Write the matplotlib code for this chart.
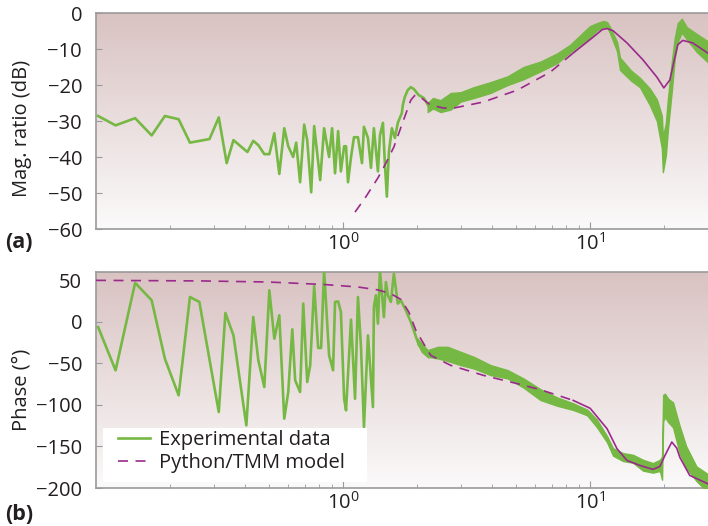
import numpy as np
import matplotlib
matplotlib.use('Agg')
import matplotlib.pyplot as plt
from matplotlib.ticker import FixedLocator, LogLocator, NullFormatter
from matplotlib.colors import LinearSegmentedColormap
from matplotlib.patches import Rectangle

plt.rcParams['font.family'] = ['Open Sans', 'DejaVu Sans']
plt.rcParams['mathtext.fontset'] = 'custom'
plt.rcParams['mathtext.rm'] = 'Open Sans'
plt.rcParams['mathtext.it'] = 'Open Sans'

# ---- (a) magnitude: experimental, low frequency part (single line)
mag_f = [0.102, 0.12, 0.144, 0.168, 0.19, 0.216, 0.24, 0.288, 0.314, 0.338, 0.36, 0.41,
         0.433, 0.454, 0.48, 0.503, 0.527, 0.552, 0.578, 0.6, 0.628, 0.646, 0.67, 0.696,
         0.716, 0.743, 0.764, 0.808, 0.838, 0.878, 0.903, 0.928, 0.955, 0.98, 1.01, 1.028,
         1.047, 1.077, 1.107, 1.149, 1.193, 1.215, 1.261, 1.297, 1.333, 1.384, 1.41, 1.45,
         1.477, 1.504, 1.533, 1.576, 1.621, 1.666, 1.729, 1.745, 1.778, 1.828, 1.88, 1.933,
         2.025, 2.122, 2.244]
mag_db = [-28.6, -31.2, -29.2, -34, -28.6, -29.5, -36, -35, -29, -41.7, -35.3, -38.6,
          -35.5, -36.7, -39.2, -39.2, -33.4, -44.7, -32, -37, -40, -36, -47, -31,
          -35.3, -49.8, -31.4, -46.4, -32, -40, -32, -44.5, -32.8, -44, -37, -37,
          -47, -40, -34.5, -34.5, -41.7, -31.6, -34.7, -43, -32, -44, -34, -30.5,
          -42, -51, -38.6, -32, -34.7, -30.5, -27.8, -25.6, -23.3, -21.4, -20.6, -21.1,
          -22.8, -23.6, -26.4]

# experimental, high frequency part (dense noisy band: upper / lower envelope)
magb_f = [2.2, 2.31, 2.48, 2.73, 2.99, 3.38, 3.95, 4.63, 5.37, 6.29, 7.36, 8.31, 9.37,
          10.0, 10.67, 11.28, 11.71, 12.04, 12.85, 13.21, 14.66, 15.91, 17.46, 18.63,
          19.51, 19.7, 20.26, 20.63, 21.41, 22.01, 22.63, 23.5, 24.61, 27.01, 29.9]
magb_hi = [-25.0, -23.6, -24.2, -22.2, -22.0, -20.6, -19.2, -17.6, -15.0, -13.5, -11.2,
           -8.8, -5.4, -3.6, -2.8, -2.2, -2.5, -3.9, -8.0, -12.4, -16.0, -18.0, -21.0,
           -24.0, -28.5, -34.4, -30.5, -24.0, -13.5, -6.9, -2.8, -1.6, -3.9, -5.8, -7.8]
magb_lo = [-27.5, -26.5, -27.5, -26.8, -24.6, -23.6, -22.2, -20.0, -18.4, -16.2, -13.9,
           -10.9, -8.2, -6.7, -4.8, -4.0, -3.9, -5.6, -10.6, -15.8, -18.8, -20.6, -25.6,
           -30.0, -37.5, -44.2, -39.5, -32.6, -21.6, -12.6, -8.0, -5.4, -7.3, -10.8, -13.6]

# model magnitude
mod_mag_f = [1.118, 1.238, 1.384, 1.491, 1.606, 1.745, 1.88, 1.95, 2.006, 2.264, 2.555,
             2.803, 3.703, 5.077, 6.898, 8.542, 10.28, 11.2, 11.71, 12.38, 14.1, 16.36,
             18.63, 19.88, 21.02, 22.0, 22.63, 23.71, 26.02, 29.91]
mod_mag_db = [-55.3, -51, -45.8, -41.7, -37.2, -30.3, -24.2, -22.9, -22.8, -25.6, -26.4,
              -26.4, -24.7, -21.4, -16.4, -11.1, -6.7, -4.6, -4.3, -4.9, -8.3, -13,
              -17.8, -20.8, -18.6, -12.5, -8.8, -7.6, -8.3, -11.1]

# ---- (b) phase: experimental, low frequency part
ph_f = [0.102, 0.12, 0.144, 0.168, 0.19, 0.216, 0.24, 0.262, 0.314, 0.334, 0.36, 0.406,
        0.433, 0.454, 0.48, 0.503, 0.527, 0.552, 0.578, 0.6, 0.623, 0.64, 0.67, 0.69,
        0.716, 0.736, 0.764, 0.793, 0.815, 0.838, 0.878, 0.911, 0.928, 0.955, 0.98, 1.01,
        1.028, 1.077, 1.118, 1.149, 1.182, 1.215, 1.261, 1.321, 1.333, 1.358, 1.384, 1.41,
        1.463, 1.491, 1.519, 1.561, 1.606, 1.666, 1.713, 1.795, 1.88, 2.006, 2.102, 2.222]
ph_deg = [-6.2, -58.3, 47, 26, -44.3, -88.4, 30, 24, -108.5, 10.7, -16.2, -124.6,
          5.9, -46.3, -78.4, 38, -20.2, 7.9, -116.5, -84.4, -9, -70.4, -84.4, 22,
          -72.4, -52.3, 43.2, -31.4, -31.4, 62, -40.3, -58.3, 24, 24.7, 12, -92.5,
          -106.5, 2.7, -92.5, 30, -30.3, -126.6, -16.2, -102.5, 17.9, 32, -2.1, 62,
          5.9, 48, 32, 24, 58, 22, 26, 14, 0, -24.2, -36.3, -42.3]

# experimental, high frequency band
phb_f = [2.0, 2.2, 2.42, 2.65, 2.99, 3.38, 3.95, 4.63, 5.37, 6.29, 7.36, 8.54, 9.37, 9.73,
         10.67, 11.71, 12.38, 13.59, 14.91, 16.36, 17.95, 19.16, 19.55, 19.75, 20.07,
         20.69, 21.66, 23.07, 24.5, 26.93, 29.9]
phb_hi = [-20, -34, -30, -30, -36, -42, -52, -58, -68, -81, -91,
          -98, -103.5, -105.5, -118, -137.5, -152, -158, -160, -166, -170,
          -166, -162, -88, -86.4, -92.5, -97, -126, -150, -174, -183]
phb_lo = [-27, -42, -44, -47, -52, -56, -64, -68, -79, -94, -101,
          -106, -110.5, -112.5, -127, -145, -161, -167.5, -169.5, -179, -181.5,
          -179.5, -190, -120, -114.5, -120.6, -127, -159, -175.5, -191.5, -205]

# model phase
mod_ph_f = [0.1, 0.2676, 0.4984, 0.838, 1.149, 1.384, 1.561, 1.713, 1.845, 1.97, 2.122,
            2.264, 2.726, 3.703, 5.077, 6.287, 8.542, 10.0, 11.71, 12.85, 14.1, 15.91,
            17.95, 19.16, 20.07, 21.41, 22.43, 23.07, 25.3, 29.9]
mod_ph_deg = [50, 49.3, 48, 45, 42, 38.5, 34, 27, 12, -10, -26.5, -40.3, -52.3, -64.4,
              -74.4, -81.6, -94.5, -104, -128.6, -152.7, -166.8, -172.8, -177.6, -174,
              -161, -144.6, -152, -163, -184.8, -194.8]

green = '#76b844'
purple = '#9a2a8c'
grey = '#9a9a9a'
txt = '#231f20'
fs = 14.5
bg = LinearSegmentedColormap.from_list('bg', ['#d9c2c2', '#fbfafa'])

fig = plt.figure(figsize=(7.08, 5.26), dpi=100)
ax1 = fig.add_axes([0.1356, 0.5646, 0.8644, 0.4106])
ax2 = fig.add_axes([0.1356, 0.0722, 0.8644, 0.4106])

split = 7.0  # model line drawn dashed below this frequency, solid above


def draw_model(ax, f, v):
    f = np.array(f)
    v = np.array(v)
    k = np.searchsorted(f, split)
    ax.plot(f[:k + 1], v[:k + 1], color=purple, lw=1.2, ls=(0, (6, 4.5)), zorder=4,
            label='Python/TMM model')
    ax.plot(f[k:], v[k:], color=purple, lw=1.2, zorder=4)


for ax in (ax1, ax2):
    grad = np.linspace(0, 1, 256).reshape(-1, 1)
    ax.imshow(grad, extent=[0, 1, 0, 1], transform=ax.transAxes, cmap=bg,
              aspect='auto', zorder=0)

ax1.plot(mag_f, mag_db, color=green, lw=1.9, zorder=3)
ax1.fill_between(magb_f, magb_lo, magb_hi, color=green, lw=1.0, edgecolor=green, zorder=3)
draw_model(ax1, mod_mag_f, mod_mag_db)

ax2.plot(ph_f, ph_deg, color=green, lw=1.9, zorder=3, label='Experimental data')
ax2.fill_between(phb_f, phb_lo, phb_hi, color=green, lw=1.0, edgecolor=green, zorder=3)
draw_model(ax2, mod_ph_f, mod_ph_deg)

ax1.set_ylim(-60, 0)
ax1.set_yticks([0, -10, -20, -30, -40, -50, -60])
ax2.set_ylim(-200, 60)
ax2.set_yticks([50, 0, -50, -100, -150, -200])

for ax in (ax1, ax2):
    ax.set_xscale('log')
    ax.set_xlim(0.1, 30)
    ax.xaxis.set_major_locator(FixedLocator([1, 10]))
    ax.set_xticklabels(['10$^0$', '10$^1$'])
    ax.xaxis.set_minor_locator(LogLocator(base=10, subs=np.arange(2, 10)))
    ax.xaxis.set_minor_formatter(NullFormatter())
    ax.tick_params(axis='x', which='major', direction='in', length=5, color=grey,
                   labelsize=fs, labelcolor=txt, pad=3)
    ax.tick_params(axis='x', which='minor', direction='in', length=3, color=grey)
    ax.tick_params(axis='y', direction='in', length=4, color=grey, labelsize=fs,
                   labelcolor=txt, pad=10)
    for s in ('left', 'top', 'bottom'):
        ax.spines[s].set_color(grey)
        ax.spines[s].set_linewidth(1.2)
    ax.spines['right'].set_visible(False)

ax1.set_ylabel('Mag. ratio (dB)', fontsize=fs, color=txt)
ax2.set_ylabel('Phase (°)', fontsize=fs, color=txt)
ax1.yaxis.set_label_coords(-0.105, 0.465)
ax2.yaxis.set_label_coords(-0.105, 0.455)

# white legend panel, then a frameless legend on top of it
ax2.add_patch(Rectangle((0.0114, 0.028), 0.431, 0.25, transform=ax2.transAxes,
                        facecolor='white', edgecolor='none', zorder=9))
leg = ax2.legend(loc='upper left', bbox_to_anchor=(0.036, 0.268), borderaxespad=0,
                 fontsize=fs, frameon=False, handlelength=1.6, handletextpad=0.45,
                 labelspacing=0.15, borderpad=0)
leg.set_zorder(10)
for t in leg.get_texts():
    t.set_color(txt)

fig.text(5 / 708, 1 - 243 / 526, '(a)', fontsize=15.5, fontweight='bold', va='center',
         color=txt)
fig.text(5 / 708, 1 - 515 / 526, '(b)', fontsize=15.5, fontweight='bold', va='center',
         color=txt)

fig.savefig('out.png', dpi=100)
